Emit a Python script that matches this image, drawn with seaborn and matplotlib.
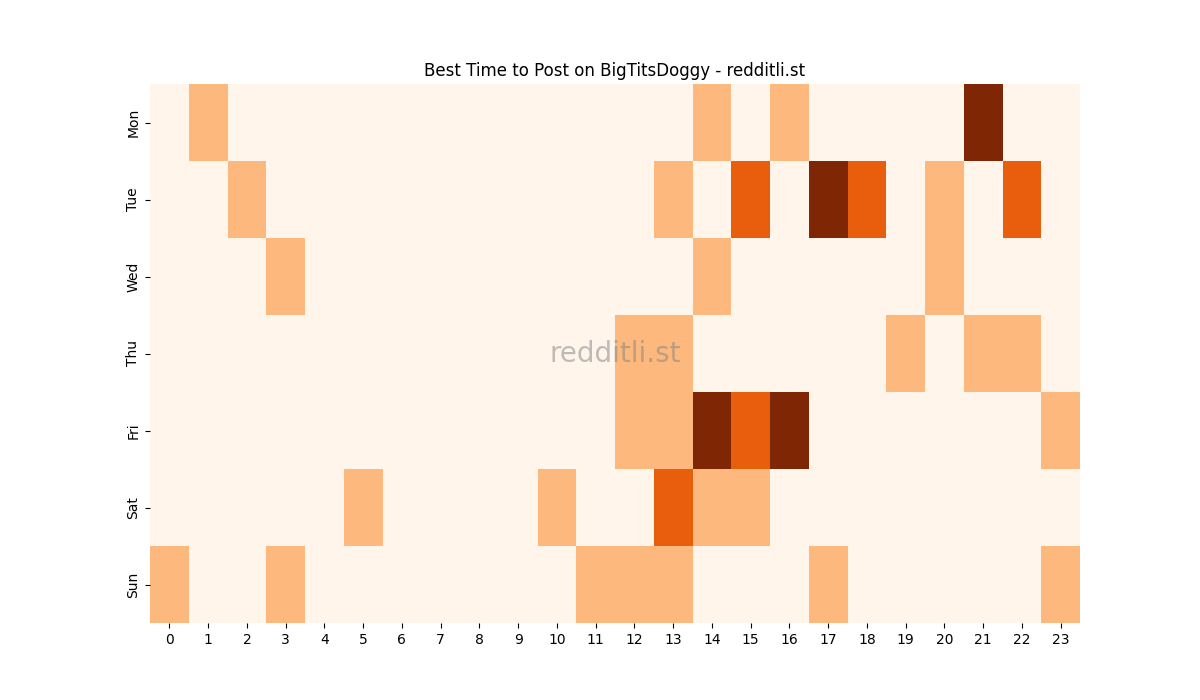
import matplotlib
matplotlib.use("Agg")
import matplotlib.pyplot as plt
import seaborn as sns
import numpy as np
import pandas as pd

days = ["Mon", "Tue", "Wed", "Thu", "Fri", "Sat", "Sun"]
hours = list(range(24))

# post activity level per day, one list per weekday (0..3)
mon = [0, 1, 0, 0, 0, 0, 0, 0, 0, 0, 0, 0, 0, 0, 1, 0, 1, 0, 0, 0, 0, 3, 0, 0]
tue = [0, 0, 1, 0, 0, 0, 0, 0, 0, 0, 0, 0, 0, 1, 0, 2, 0, 3, 2, 0, 1, 0, 2, 0]
wed = [0, 0, 0, 1, 0, 0, 0, 0, 0, 0, 0, 0, 0, 0, 1, 0, 0, 0, 0, 0, 1, 0, 0, 0]
thu = [0, 0, 0, 0, 0, 0, 0, 0, 0, 0, 0, 0, 1, 1, 0, 0, 0, 0, 0, 1, 0, 1, 1, 0]
fri = [0, 0, 0, 0, 0, 0, 0, 0, 0, 0, 0, 0, 1, 1, 3, 2, 3, 0, 0, 0, 0, 0, 0, 1]
sat = [0, 0, 0, 0, 0, 1, 0, 0, 0, 0, 1, 0, 0, 2, 1, 1, 0, 0, 0, 0, 0, 0, 0, 0]
sun = [1, 0, 0, 1, 0, 0, 0, 0, 0, 0, 0, 1, 1, 1, 0, 0, 0, 1, 0, 0, 0, 0, 0, 1]

df = pd.DataFrame([mon, tue, wed, thu, fri, sat, sun], index=days, columns=hours)

fig, ax = plt.subplots(figsize=(12, 7), dpi=100)
sns.heatmap(df, cmap="Oranges", cbar=False, ax=ax, vmin=0, vmax=3)
ax.set_title("Best Time to Post on BigTitsDoggy - redditli.st")
ax.set_xlabel("")
ax.set_ylabel("")

# watermark
ax.text(0.5, 0.5, "redditli.st", transform=ax.transAxes, ha="center", va="center",
        fontsize=20, color="gray", alpha=0.5)

plt.savefig("out.png")
